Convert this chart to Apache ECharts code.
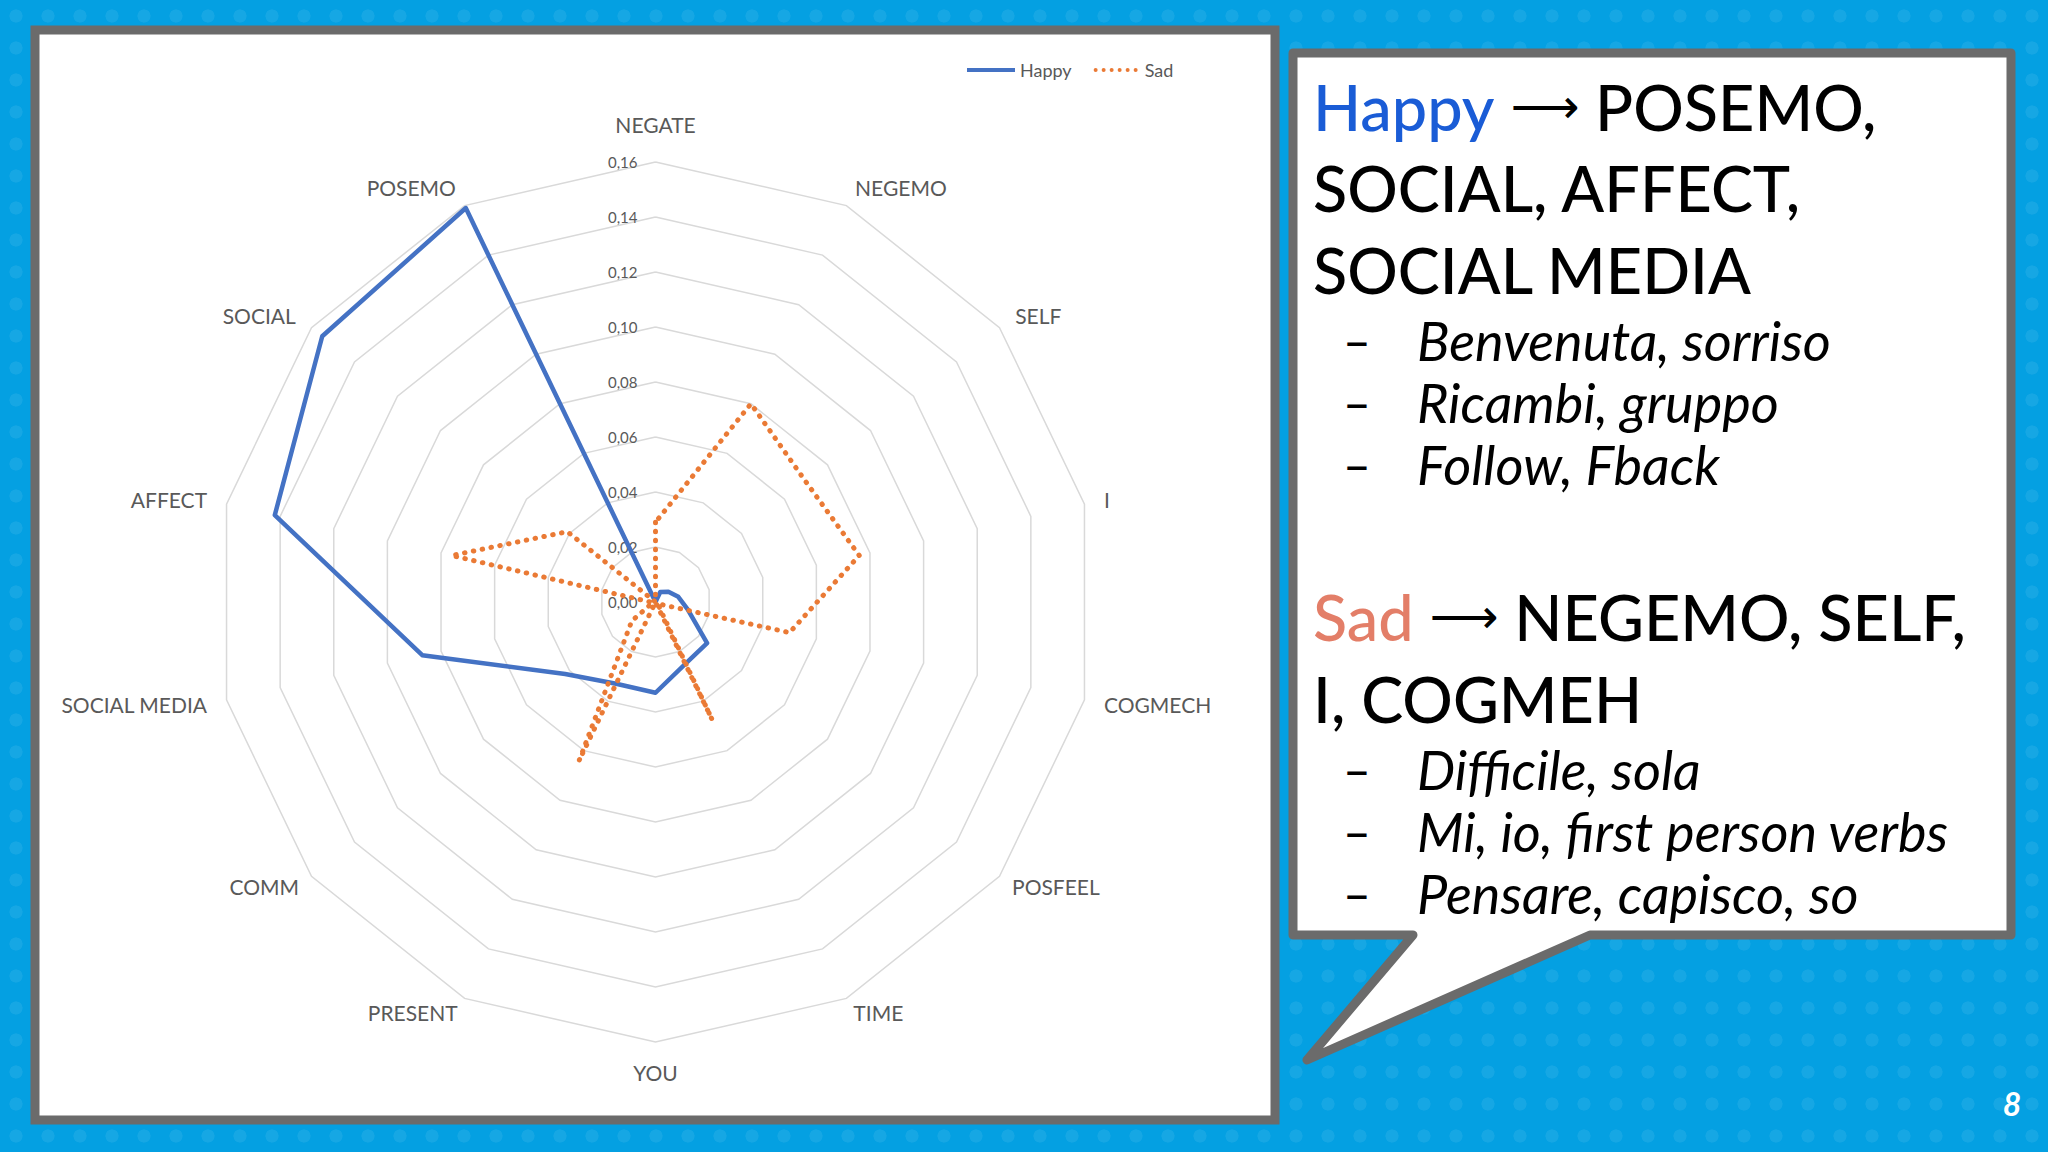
<!DOCTYPE html>
<html>
<head>
<meta charset="utf-8">
<title>Happy vs Sad</title>
<script src="https://cdn.jsdelivr.net/npm/echarts@6/dist/echarts.min.js"></script>
<style>
  html, body { margin: 0; padding: 0; }
  body {
    background-color: #04a0e2;
    background-image: radial-gradient(rgba(255,255,255,0.07) 28%, transparent 30%);
    background-size: 32px 32px;
  }
  #chart { width: 2048px; height: 1152px; }
</style>
</head>
<body>
<div id="chart"></div>
<script>
// categories clockwise from the top, as on the slide
var categories = ['NEGATE', 'NEGEMO', 'SELF', 'I', 'COGMECH', 'POSFEEL', 'TIME', 'YOU',
    'PRESENT', 'COMM', 'SOCIAL MEDIA', 'AFFECT', 'SOCIAL', 'POSEMO'];
var happy = [0.000, 0.004, 0.006, 0.0085, 0.012, 0.024, 0.025, 0.033, 0.033, 0.042, 0.087, 0.142, 0.155, 0.159];
var sad = [0.029, 0.080, 0.070, 0.076, 0.050, 0.001, 0.0475, 0.000, 0.064, 0.011, 0.001, 0.076, 0.041, 0.000];
var tickLabels = ['0,00', '0,02', '0,04', '0,06', '0,08', '0,10', '0,12', '0,14', '0,16'];
var axisMax = 0.16;

var happyLines = ['{h|Happy} {a|\u27F6} POSEMO,', 'SOCIAL, AFFECT,', 'SOCIAL MEDIA'];
var happyBullets = ['Benvenuta, sorriso', 'Ricambi, gruppo', 'Follow, Fback'];
var sadLines = ['{s|Sad} {a|\u27F6} NEGEMO, SELF,', 'I, COGMEH'];
var sadBullets = ['Difficile, sola', 'Mi, io, first person verbs', 'Pensare, capisco, so'];

// echarts radar runs counter-clockwise, so flip everything after the first axis
function clockwise(arr) {
    return [arr[0]].concat(arr.slice(1).reverse());
}

var chart = echarts.init(document.getElementById('chart'), null, {renderer: 'svg'});

var lowNames = ['POSFEEL', 'TIME', 'PRESENT', 'COMM'];
var indicators = clockwise(categories).map(function (name, i) {
    var ind = {name: name, min: 0, max: axisMax};
    if (i === 0) {
        ind.axisLabel = {show: true};
        ind.nameGap = 27;
    }
    if (lowNames.indexOf(name) >= 0) ind.nameGap = 16;
    return ind;
});

var headFont = {fontSize: 63, fontFamily: 'Lato', fontWeight: 500, fill: '#000'};
var bulletFont = {fontSize: 54, fontFamily: 'Lato', fontStyle: 'italic', fill: '#000'};

var texts = [];
function headLine(str, y) {
    texts.push({
        type: 'text', z: 10,
        style: Object.assign({
            x: 1313, y: y, text: str, verticalAlign: 'middle',
            rich: {
                h: {fontSize: 63, fontFamily: 'Lato', fontWeight: 500, fill: '#1a5cd6'},
                s: {fontSize: 63, fontFamily: 'Lato', fontWeight: 500, fill: '#e37e68'},
                a: {fontSize: 48, fontFamily: 'DejaVu Sans', fill: '#000', verticalAlign: 'middle'}
            }
        }, headFont)
    });
}
function bullet(str, y) {
    texts.push({type: 'text', z: 10, style: Object.assign({x: 1343, y: y, text: '\u2013', verticalAlign: 'middle'}, headFont, {fontSize: 48})});
    texts.push({type: 'text', z: 10, style: Object.assign({x: 1417, y: y, text: str, verticalAlign: 'middle'}, bulletFont)});
}
happyLines.forEach(function (s, i) { headLine(s, 106 + i * 81.5); });
happyBullets.forEach(function (s, i) { bullet(s, 340 + i * 62); });
sadLines.forEach(function (s, i) { headLine(s, 616 + i * 82); });
sadBullets.forEach(function (s, i) { bullet(s, 769 + i * 62); });

var sadIcon = '';
for (var k = 0; k < 6; k++) {
    sadIcon += 'M' + (k * 8) + ',2a2,2 0 1,0 4,0a2,2 0 1,0 -4,0';
}

chart.setOption({
    backgroundColor: 'transparent',
    animation: false,
    legend: {
        left: 962, top: 56,
        itemWidth: 48, itemHeight: 4, itemGap: 22,
        textStyle: {color: '#595959', fontSize: 18, fontFamily: 'Lato'},
        data: [
            {name: 'Happy', icon: 'path://M0,0H48V4H0Z'},
            {name: 'Sad', icon: 'path://' + sadIcon}
        ]
    },
    radar: {
        center: [655.5, 602],
        radius: 440,
        startAngle: 90,
        splitNumber: 8,
        shape: 'polygon',
        nameGap: 20,
        axisName: {color: '#595959', fontSize: 21, fontFamily: 'Lato'},
        axisLine: {show: false},
        axisTick: {show: false},
        splitArea: {show: false},
        splitLine: {lineStyle: {color: '#d9d9d9', width: 1.5}},
        axisLabel: {
            show: false, color: '#595959', fontSize: 15, fontFamily: 'Lato', margin: 18,
            formatter: function (v) { return tickLabels[Math.round(v / 0.02)]; }
        },
        indicator: indicators
    },
    series: [{
        type: 'radar',
        symbol: 'none',
        data: [
            {
                name: 'Happy', value: clockwise(happy),
                lineStyle: {color: '#4472c4', width: 4.5},
                itemStyle: {color: '#4472c4'}
            },
            {
                name: 'Sad', value: clockwise(sad),
                lineStyle: {color: '#ea7a35', width: 5, type: [0.5, 8.5], cap: 'round'},
                itemStyle: {color: '#ea7a35'}
            }
        ]
    }],
    graphic: {
        elements: [
            {
                type: 'rect', z: -10,
                shape: {x: 35, y: 30, width: 1240, height: 1090},
                style: {fill: '#ffffff', stroke: '#6b6b6b', lineWidth: 9}
            },
            {
                type: 'polygon', z: -10,
                shape: {points: [[1293, 53], [2011, 53], [2011, 935], [1590, 935], [1307, 1060], [1413, 935], [1293, 935]]},
                style: {fill: '#ffffff', stroke: '#6b6b6b', lineWidth: 9, lineJoin: 'round'}
            },
            {
                type: 'text', z: 10,
                style: {x: 2012, y: 1103, text: '8', fill: '#ffffff', fontSize: 32, fontWeight: 'bold',
                    fontStyle: 'italic', fontFamily: 'Lato', align: 'center', verticalAlign: 'middle'}
            }
        ].concat(texts)
    }
});
</script>
</body>
</html>
